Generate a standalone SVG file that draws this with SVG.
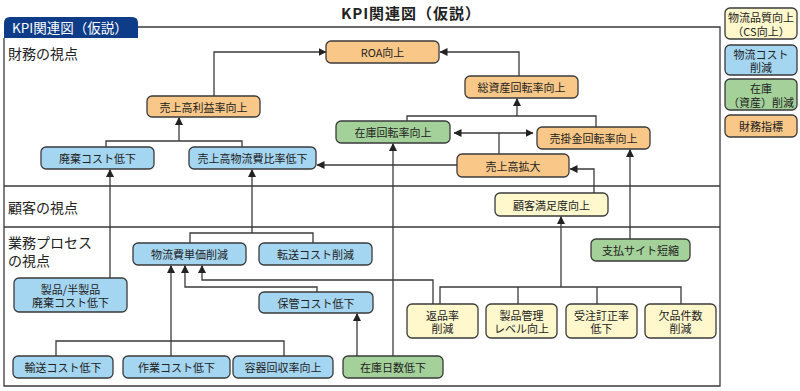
<svg xmlns="http://www.w3.org/2000/svg" width="800" height="391" viewBox="0 0 800 391">
<style>
text{font-family:"Noto Sans CJK JP","Noto Sans",sans-serif;fill:#222}
.n rect{stroke:#3a3a3a;stroke-width:1.3}
.n text{font-size:11px;text-anchor:middle;dominant-baseline:central}
.o rect{fill:#F9C889}
.b rect{fill:#A5D6F1}
.g rect{fill:#A3D199}
.y rect{fill:#FEF8CC}
.lbl{font-size:14px}
.c path{fill:none;stroke:#3a3a3a;stroke-width:1.3}
.frame{fill:none;stroke:#3a3a3a;stroke-width:1.3}
</style>
<defs>
<marker id="ah" markerUnits="userSpaceOnUse" markerWidth="8" markerHeight="8" refX="7.5" refY="4" orient="auto-start-reverse" viewBox="0 0 8 8">
<path d="M0,0 L8,4 L0,8 z" fill="#222"/>
</marker>
</defs>
<rect width="800" height="391" fill="#fff"/>
<text x="411" y="19" font-size="15" font-weight="bold" text-anchor="middle" letter-spacing="1">KPI関連図（仮説）</text>
<g id="frame">
<path class="frame" d="M138,27 H720 V386 H4 V38"/>
<path class="frame" d="M4,186 H720 M4,227 H720"/>
<path d="M4,38 V23 Q4,17 10,17 H132 Q138,17 138,23 V38 Z" fill="#0E3C88"/>
<text x="12" y="33" font-size="13.5" style="fill:#fff">KPI関連図（仮説）</text>
<text class="lbl" x="8" y="59">財務の視点</text>
<text class="lbl" x="8" y="213">顧客の視点</text>
<text class="lbl" x="8" y="248">業務プロセス</text>
<text class="lbl" x="8" y="266">の視点</text>
</g>
<g class="c">
<path d="M214,96 V52 H326" marker-end="url(#ah)"/>
<path d="M519,76 V52 H440" marker-end="url(#ah)"/>
<path d="M106,147 V141 H242 V147"/>
<path d="M179,141 V117.5" marker-end="url(#ah)"/>
<path d="M407,121 V116 H596 V127"/>
<path d="M517,116 V98.5" marker-end="url(#ah)"/>
<path d="M454,133 H533" marker-start="url(#ah)" marker-end="url(#ah)"/>
<path d="M499,133 V154"/>
<path d="M457,165 H317" marker-end="url(#ah)"/>
<path d="M594,193 V169 H570" marker-end="url(#ah)"/>
<path d="M393,356 V143.5" marker-end="url(#ah)"/>
<path d="M630,239 V149.5" marker-end="url(#ah)"/>
<path d="M561,287 V216.5" marker-end="url(#ah)"/>
<path d="M440,304 V287 H681 V304 M518,287 V304 M597,287 V304"/>
<path d="M190,243 V233 H313 V243"/>
<path d="M252,233 V169.5" marker-end="url(#ah)"/>
<path d="M110,278 V169.5" marker-end="url(#ah)"/>
<path d="M56,356 V341 H284 V356"/>
<path d="M171,356 V265.5" marker-end="url(#ah)"/>
<path d="M317,292 V287 H185 V265.5" marker-end="url(#ah)"/>
<path d="M433,304 V280 H202 V265.5" marker-end="url(#ah)"/>
<path d="M357,356 V313.5" marker-end="url(#ah)"/>
</g>
<g id="roa" class="n o"><rect x="326" y="41" width="113" height="22" rx="5"/><text x="382.5" y="52">ROA向上</text></g>
<g id="sousisan" class="n o"><rect x="465" y="76" width="113" height="22" rx="5"/><text x="521.5" y="87">総資産回転率向上</text></g>
<g id="riekiritsu" class="n o"><rect x="147" y="96" width="113" height="21" rx="5"/><text x="203.5" y="106.5">売上高利益率向上</text></g>
<g id="zaiko-kaiten" class="n g"><rect x="336" y="121" width="114" height="22" rx="5"/><text x="393" y="132">在庫回転率向上</text></g>
<g id="urikake" class="n o"><rect x="537" y="127" width="113" height="22" rx="5"/><text x="593.5" y="138">売掛金回転率向上</text></g>
<g id="uriage-kakudai" class="n o"><rect x="457" y="154" width="112" height="23" rx="5"/><text x="513" y="165.5">売上高拡大</text></g>
<g id="haiki" class="n b"><rect x="41" y="147" width="113" height="22" rx="5"/><text x="97.5" y="158">廃棄コスト低下</text></g>
<g id="butsuryuhi-hiritsu" class="n b"><rect x="189" y="147" width="127" height="22" rx="5"/><text x="252.5" y="158">売上高物流費比率低下</text></g>
<g id="manzoku" class="n y"><rect x="495" y="193" width="113" height="23" rx="5"/><text x="551.5" y="204.5">顧客満足度向上</text></g>
<g id="shiharai" class="n g"><rect x="591" y="239" width="99" height="22" rx="5"/><text x="640.5" y="250">支払サイト短縮</text></g>
<g id="tanka" class="n b"><rect x="133" y="243" width="113" height="22" rx="5"/><text x="189.5" y="254">物流費単価削減</text></g>
<g id="tensou" class="n b"><rect x="259" y="243" width="113" height="22" rx="5"/><text x="315.5" y="254">転送コスト削減</text></g>
<g id="seihin-haiki" class="n b"><rect x="14" y="278" width="113" height="34" rx="5"/><text x="70.5" y="288.5">製品/半製品</text><text x="70.5" y="302">廃棄コスト低下</text></g>
<g id="hokan" class="n b"><rect x="259" y="292" width="114" height="21" rx="5"/><text x="316" y="302.5">保管コスト低下</text></g>
<g id="yusou" class="n b"><rect x="13" y="356" width="100" height="22" rx="5"/><text x="63" y="367">輸送コスト低下</text></g>
<g id="sagyou" class="n b"><rect x="123" y="356" width="107" height="22" rx="5"/><text x="176.5" y="367">作業コスト低下</text></g>
<g id="youki" class="n b"><rect x="233" y="356" width="100" height="22" rx="5"/><text x="283" y="367">容器回収率向上</text></g>
<g id="zaiko-nissu" class="n g"><rect x="343" y="356" width="100" height="22" rx="5"/><text x="393" y="367">在庫日数低下</text></g>
<g id="henpin" class="n y"><rect x="407" y="304" width="71" height="34" rx="5"/><text x="442.5" y="314.5">返品率</text><text x="442.5" y="328">削減</text></g>
<g id="seihin-kanri" class="n y"><rect x="486" y="304" width="71" height="34" rx="5"/><text x="521.5" y="314.5">製品管理</text><text x="521.5" y="328">レベル向上</text></g>
<g id="juchu" class="n y"><rect x="566" y="304" width="71" height="34" rx="5"/><text x="601.5" y="314.5">受注訂正率</text><text x="601.5" y="328">低下</text></g>
<g id="keppin" class="n y"><rect x="645" y="304" width="71" height="34" rx="5"/><text x="680.5" y="314.5">欠品件数</text><text x="680.5" y="328">削減</text></g>
<g id="legend-cs" class="n y"><rect x="725" y="8" width="72" height="31" rx="5"/><text x="761" y="17">物流品質向上</text><text x="761" y="30.5">（CS向上）</text></g>
<g id="legend-cost" class="n b"><rect x="725" y="45" width="72" height="30" rx="5"/><text x="761" y="53.5">物流コスト</text><text x="761" y="67">削減</text></g>
<g id="legend-zaiko" class="n g"><rect x="725" y="79" width="72" height="31" rx="5"/><text x="761" y="88">在庫</text><text x="761" y="101.5">（資産）削減</text></g>
<g id="legend-zaimu" class="n o"><rect x="725" y="115" width="72" height="22" rx="5"/><text x="761" y="126">財務指標</text></g>
</svg>
